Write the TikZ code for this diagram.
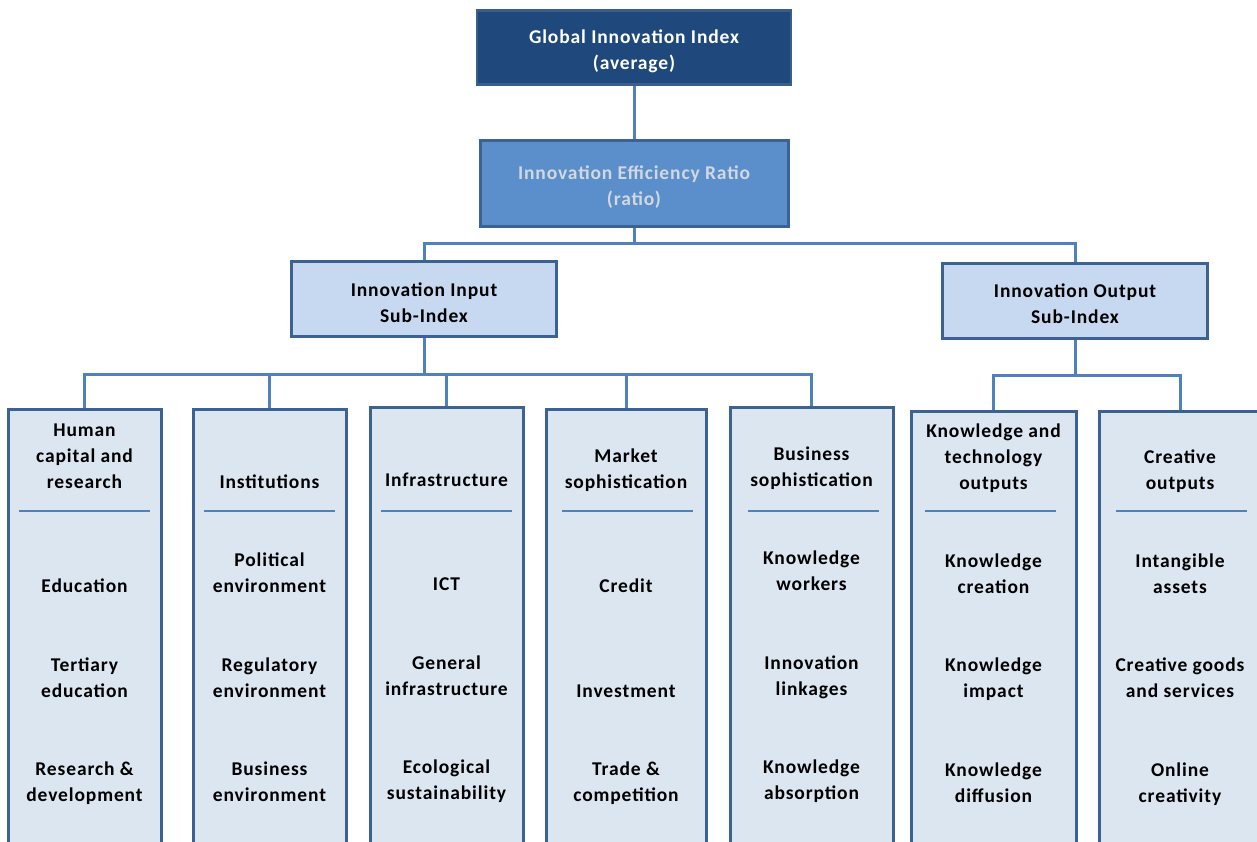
\documentclass[tikz,border=0pt]{standalone}
\usepackage{fontspec}
\setmainfont{Carlito}[LetterSpace=4.5]
\usepackage{tikz}
\usetikzlibrary{positioning}
\definecolor{giifill}{HTML}{1F497D}
\definecolor{giiline}{HTML}{3A5E8C}
\definecolor{ierfill}{HTML}{5A8FCB}
\definecolor{iertext}{HTML}{D2D8E0}
\definecolor{subfill}{HTML}{C6D9F1}
\definecolor{pilfill}{HTML}{DCE6F1}
\definecolor{boxline}{HTML}{3C6193}
\definecolor{linkblue}{HTML}{4F81BD}
\newcommand{\giifont}{\fontsize{19.5}{26}\selectfont\bfseries}
\newcommand{\giistrut}{\rule{0pt}{21pt}}
\tikzstyle{gii} = [rectangle, draw=giiline, line width=2.5pt, fill=giifill, text=white, minimum width=314pt, minimum height=74pt, align=center, font=\giifont]
\tikzstyle{ier} = [rectangle, draw=boxline, line width=3pt, fill=ierfill, text=iertext, minimum width=308pt, minimum height=86pt, align=center, font=\giifont]
\tikzstyle{subidx} = [rectangle, draw=boxline, line width=3pt, fill=subfill, minimum width=265pt, minimum height=75pt, align=center, font=\giifont]
\tikzstyle{pillar} = [rectangle, draw=boxline, line width=3pt, fill=pilfill, minimum height=437pt, anchor=north]
\tikzstyle{ptext} = [align=center, font=\giifont, inner sep=0pt, text depth=5pt, anchor=south]
\tikzstyle{sep} = [draw=linkblue, line width=2.5pt]
\tikzstyle{link} = [draw=linkblue, line width=3pt]

\begin{document}
\begin{tikzpicture}[x=1pt,y=-1pt]
\useasboundingbox (0,0) rectangle (1257,842);
\node [gii] (gii) at (634,47.5) {\giistrut Global Innovation Index\\(average)};
\node [ier] (ier) at (634,183.5) {\giistrut Innovation Efficiency Ratio\\(ratio)};
\node [subidx] (inp) at (424,299) {\giistrut Innovation Input\\Sub-Index};
\node [subidx] (outp) at (1075,300.5) {\giistrut Innovation Output\\Sub-Index};
\coordinate (j0) at (634,244);
\coordinate (j1) at (424,374);
\coordinate (j2) at (1075,375);
\draw [link] (gii) -- (ier);
\draw [link] (ier) -- (j0);
\draw [link] (j0) -| (inp.north);
\draw [link] (j0) -| (outp.north);
\draw [link] (inp) -- (j1);
\draw [link] (outp) -- (j2);

\node [pillar, minimum width=153pt] (p1) at (84.5,408) {};
\node [pillar, minimum width=153pt] (p2) at (269.5,408) {};
\node [pillar, minimum width=153pt] (p3) at (446.5,406) {};
\node [pillar, minimum width=160pt] (p4) at (626,408) {};
\node [pillar, minimum width=163pt] (p5) at (811.5,406) {};
\node [pillar, minimum width=165pt] (p6) at (993.5,410) {};
\node [pillar, minimum width=162pt] (p7) at (1180,410) {};
\draw [link] (j1) -| (p1.north);
\draw [link] (j1) -| (p2.north);
\draw [link] (j1) -| (p3.north);
\draw [link] (j1) -| (p4.north);
\draw [link] (j1) -| (p5.north);
\draw [link] (j2) -| (p6.north);
\draw [link] (j2) -| (p7.north);

\draw [sep] (19,511) -- (150,511);
\draw [sep] (204,511) -- (335,511);
\draw [sep] (381,511) -- (512,511);
\draw [sep] (562,511) -- (693,511);
\draw [sep] (748,511) -- (879,511);
\draw [sep] (925,511) -- (1056,511);
\draw [sep] (1116,511) -- (1247,511);

\node [ptext] (hum) at (84.5,494) {Human\\capital and\\research};
\node [ptext] (inst) at (269.5,494) {Institutions};
\node [ptext] (infra) at (446.5,492) {Infrastructure};
\node [ptext] (mkt) at (626,494) {Market\\sophistication};
\node [ptext] (bus) at (811.5,492) {Business\\sophistication};
\node [ptext] (kto) at (993.5,495) {Knowledge and\\technology\\outputs};
\node [ptext] (cro) at (1180,495) {Creative\\outputs};

\node [ptext] (edu) at (84.5,598) {Education};
\node [ptext] (ter) at (84.5,703) {Tertiary\\education};
\node [ptext] (rnd) at (84.5,807) {Research \&\\development};
\node [ptext] (pol) at (269.5,598) {Political\\environment};
\node [ptext] (reg) at (269.5,703) {Regulatory\\environment};
\node [ptext] (benv) at (269.5,807) {Business\\environment};
\node [ptext] (ict) at (446.5,596) {ICT};
\node [ptext] (geninf) at (446.5,701) {General\\infrastructure};
\node [ptext] (eco) at (446.5,805) {Ecological\\sustainability};
\node [ptext] (cred) at (626,598) {Credit};
\node [ptext] (inv) at (626,703) {Investment};
\node [ptext] (trade) at (626,807) {Trade \&\\competition};
\node [ptext] (kwork) at (811.5,596) {Knowledge\\workers};
\node [ptext] (ilink) at (811.5,701) {Innovation\\linkages};
\node [ptext] (kabs) at (811.5,805) {Knowledge\\absorption};
\node [ptext] (kcre) at (993.5,599) {Knowledge\\creation};
\node [ptext] (kimp) at (993.5,703) {Knowledge\\impact};
\node [ptext] (kdif) at (993.5,808) {Knowledge\\diffusion};
\node [ptext] (intang) at (1180,599) {Intangible\\assets};
\node [ptext] (cgoods) at (1180,703) {Creative goods\\and services};
\node [ptext] (online) at (1180,808) {Online\\creativity};
\end{tikzpicture}
\end{document}
